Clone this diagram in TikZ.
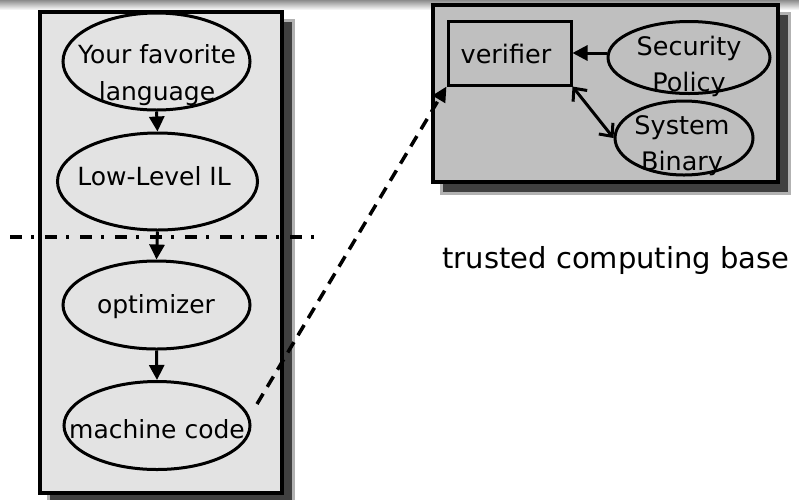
\documentclass[tikz,border=0pt]{standalone}
\usepackage{fontspec}
\setmainfont{DejaVu Sans}
\usetikzlibrary{shapes.geometric,arrows.meta}
\begin{document}
\begin{tikzpicture}[x=1pt,y=-1pt,
  big/.style={font=\fontsize{25}{37}\selectfont, inner sep=0, align=center},
  small/.style={font=\fontsize{25.5}{36}\selectfont, inner sep=0, align=center},
  ell/.style={ellipse, draw, line width=3pt, inner sep=0},
  arr/.style={line width=3pt, -{Triangle[length=15pt,width=15pt]}},
  dbl/.style={line width=3pt, {Straight Barb[length=10pt,width=18pt]}-{Straight Barb[length=10pt,width=18pt]}},
  dashlink/.style={line width=3.5pt, dash pattern=on 12pt off 8pt, -{Triangle[length=15pt,width=14pt]}},
  dashdot/.style={line width=3.5pt, dash pattern=on 12pt off 9pt on 3pt off 11pt},
  shadowfill/.style={fill=black!75},
  shadowhalo/.style={fill=black!30},
]
\useasboundingbox (0,0) rectangle (799,499);
% top strip
\shade[top color=black!45, bottom color=white] (0,0) rectangle (799,10);
% left box
\fill[shadowhalo] (47,19) rectangle (295,505);
\fill[shadowfill] (50,22) rectangle (292,505);
\filldraw[fill=black!11, line width=3.5pt] (40,12) rectangle (282,493);
% right box
\fill[shadowhalo] (440,12) rectangle (791,195);
\fill[shadowfill] (443,15) rectangle (788,192);
\filldraw[fill=black!25, line width=3.5pt] (433,5) rectangle (778,182);

% left nodes
\node[ell, minimum width=187pt, minimum height=97pt] (lang) at (156.5,61.5) {};
\node[big, anchor=base] (langt) at (157,100) {Your favorite\\language};
\node[ell, minimum width=200pt, minimum height=97pt] (ll) at (157.5,181.5) {};
\node[big, anchor=base] (llt) at (154,185) {Low-Level IL};
\node[ell, minimum width=187pt, minimum height=88pt] (opt) at (156.5,305) {};
\node[big, anchor=base] (optt) at (156,313) {optimizer};
\node[ell, minimum width=186pt, minimum height=88pt] (mc) at (157,425.5) {};
\node[big, anchor=base] (mct) at (157,438) {machine code};

\draw[arr] (lang.south) -- (ll.north);
\draw[arr] (ll.south) -- (opt.north);
\draw[arr] (opt.south) -- (mc.north);

% right nodes
\node[draw, line width=3pt, minimum width=123pt, minimum height=64pt, inner sep=0] (ver) at (509.5,53) {};
\node[small, anchor=base] (vert) at (506,63) {verifier};
\node[ell, minimum width=162pt, minimum height=72pt] (sp) at (689,57.5) {};
\node[small, anchor=base] (spt) at (689,91) {Security\\Policy};
\node[ell, minimum width=138pt, minimum height=74pt] (sb) at (684,138) {};
\node[small, anchor=base] (sbt) at (682,170) {System\\Binary};

\draw[arr] (ver.east -| sp.west) -- (ver.east);
\draw[dbl] (ver.south east) -- (sb.west);

% trust boundary
\coordinate (dl) at (10,237);
\coordinate (dr) at (318,237);
\draw[dashdot] (dl) -- (dr);

% dashed link
\coordinate (dstart) at (257,404);
\draw[dashlink] (dstart) -- (ver.south west);

\node[font=\fontsize{29}{34}\selectfont, inner sep=0, anchor=base] (tcb) at (616,268) {trusted computing base};
\end{tikzpicture}
\end{document}
